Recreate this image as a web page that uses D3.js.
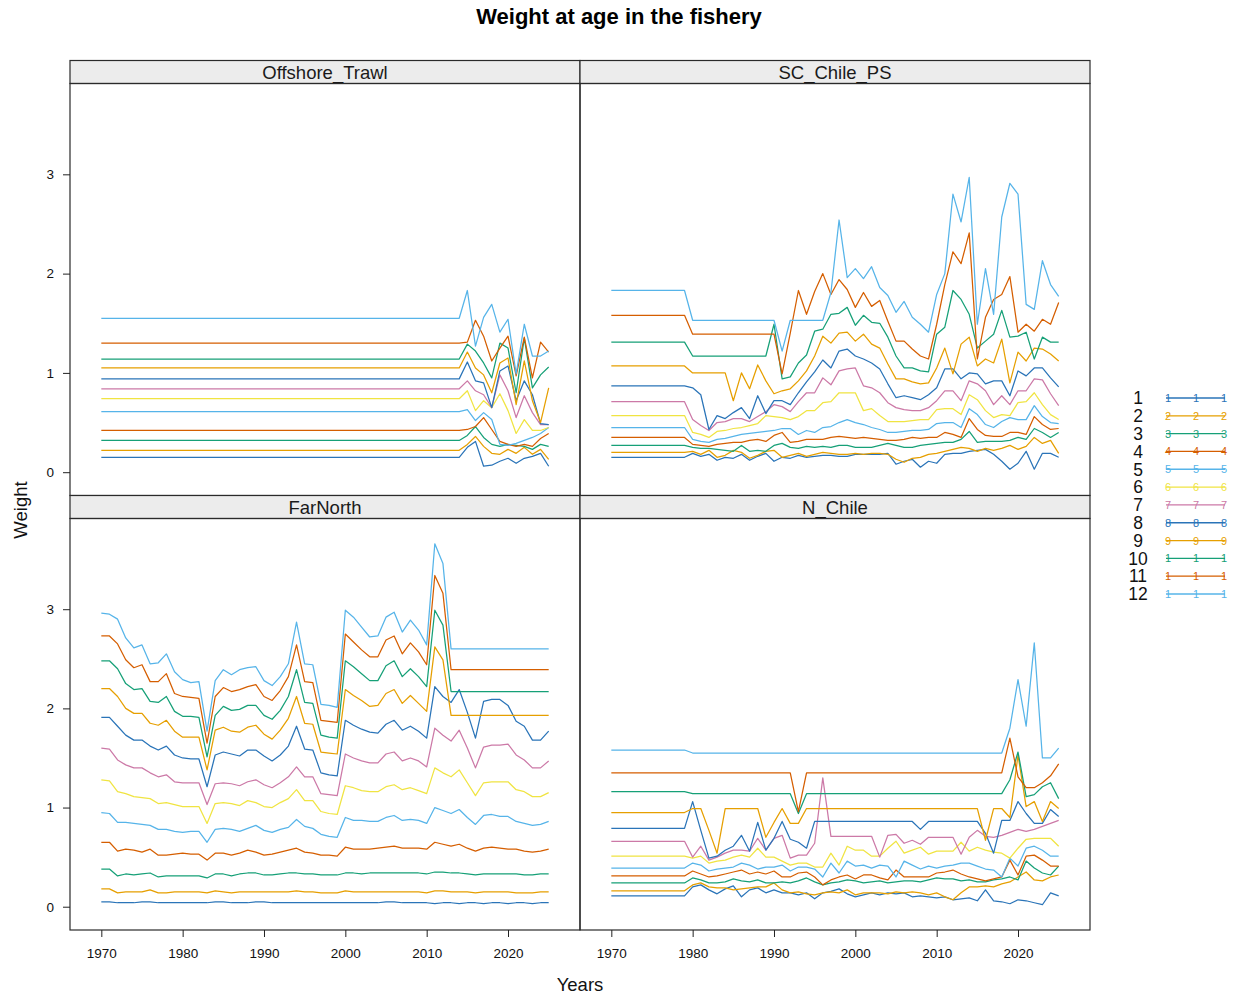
<!DOCTYPE html>
<html>
<head>
<meta charset="utf-8">
<script src="https://cdn.jsdelivr.net/npm/d3@7"></script>
<style>
  body { margin: 0; background: #fff; }
  svg { display: block; font-family: "Liberation Sans", Arial, Helvetica, sans-serif; }
</style>
</head>
<body>
<svg id="chart" width="1233" height="999"></svg>
<script>
// ---- data ---------------------------------------------------------------
const years = d3.range(1970, 2026);
const ages = ["1", "2", "3", "4", "5", "6", "7", "8", "9", "10", "11", "12"];
const fleets = ["Offshore_Trawl", "SC_Chile_PS", "FarNorth", "N_Chile"];
const xTickValues = [1970, 1980, 1990, 2000, 2010, 2020];
const yTickValues = [0, 1, 2, 3];
const ageColors = ["#2a74b8", "#E69F00", "#16a077", "#D55E00", "#56B4E9", "#F0E442",
                   "#CC79A7", "#2a74b8", "#E69F00", "#16a077", "#D55E00", "#56B4E9"];

// weight at age (kg), one row per age 1..12, one value per year 1970..2025
const wtOffshoreTrawl = [
  [0.15,0.15,0.15,0.15,0.15,0.15,0.15,0.15,0.15,0.15, 0.15,0.15,0.15,0.15,0.15,0.15,0.15,0.15,0.15,0.15,
   0.15,0.15,0.15,0.15,0.15,0.15,0.15,0.15,0.15,0.15, 0.15,0.15,0.15,0.15,0.15,0.15,0.15,0.15,0.15,0.15,
   0.15,0.15,0.15,0.15,0.15,0.25,0.31,0.06,0.07,0.11, 0.14,0.09,0.14,0.16,0.19,0.06],
  [0.22,0.22,0.22,0.22,0.22,0.22,0.22,0.22,0.22,0.22, 0.22,0.22,0.22,0.22,0.22,0.22,0.22,0.22,0.22,0.22,
   0.22,0.22,0.22,0.22,0.22,0.22,0.22,0.22,0.22,0.22, 0.22,0.22,0.22,0.22,0.22,0.22,0.22,0.22,0.22,0.22,
   0.22,0.22,0.22,0.22,0.22,0.28,0.36,0.26,0.19,0.18, 0.23,0.19,0.25,0.18,0.23,0.13],
  [0.32,0.32,0.32,0.32,0.32,0.32,0.32,0.32,0.32,0.32, 0.32,0.32,0.32,0.32,0.32,0.32,0.32,0.32,0.32,0.32,
   0.32,0.32,0.32,0.32,0.32,0.32,0.32,0.32,0.32,0.32, 0.32,0.32,0.32,0.32,0.32,0.32,0.32,0.32,0.32,0.32,
   0.32,0.32,0.32,0.32,0.32,0.37,0.46,0.35,0.28,0.26, 0.28,0.27,0.26,0.23,0.28,0.26],
  [0.42,0.42,0.42,0.42,0.42,0.42,0.42,0.42,0.42,0.42, 0.42,0.42,0.42,0.42,0.42,0.42,0.42,0.42,0.42,0.42,
   0.42,0.42,0.42,0.42,0.42,0.42,0.42,0.42,0.42,0.42, 0.42,0.42,0.42,0.42,0.42,0.42,0.42,0.42,0.42,0.42,
   0.42,0.42,0.42,0.42,0.42,0.43,0.46,0.55,0.43,0.31, 0.28,0.26,0.28,0.26,0.34,0.39],
  [0.61,0.61,0.61,0.61,0.61,0.61,0.61,0.61,0.61,0.61, 0.61,0.61,0.61,0.61,0.61,0.61,0.61,0.61,0.61,0.61,
   0.61,0.61,0.61,0.61,0.61,0.61,0.61,0.61,0.61,0.61, 0.61,0.61,0.61,0.61,0.61,0.61,0.61,0.61,0.61,0.61,
   0.61,0.61,0.61,0.61,0.61,0.63,0.52,0.60,0.53,0.28, 0.27,0.29,0.32,0.35,0.39,0.45],
  [0.74,0.74,0.74,0.74,0.74,0.74,0.74,0.74,0.74,0.74, 0.74,0.74,0.74,0.74,0.74,0.74,0.74,0.74,0.74,0.74,
   0.74,0.74,0.74,0.74,0.74,0.74,0.74,0.74,0.74,0.74, 0.74,0.74,0.74,0.74,0.74,0.74,0.74,0.74,0.74,0.74,
   0.74,0.74,0.74,0.74,0.74,0.82,0.62,0.72,0.65,0.79, 0.62,0.39,0.53,0.42,0.42,0.45],
  [0.84,0.84,0.84,0.84,0.84,0.84,0.84,0.84,0.84,0.84, 0.84,0.84,0.84,0.84,0.84,0.84,0.84,0.84,0.84,0.84,
   0.84,0.84,0.84,0.84,0.84,0.84,0.84,0.84,0.84,0.84, 0.84,0.84,0.84,0.84,0.84,0.84,0.84,0.84,0.84,0.84,
   0.84,0.84,0.84,0.84,0.84,0.92,0.82,0.78,0.65,0.98, 0.82,0.55,0.77,0.60,0.48,0.48],
  [0.94,0.94,0.94,0.94,0.94,0.94,0.94,0.94,0.94,0.94, 0.94,0.94,0.94,0.94,0.94,0.94,0.94,0.94,0.94,0.94,
   0.94,0.94,0.94,0.94,0.94,0.94,0.94,0.94,0.94,0.94, 0.94,0.94,0.94,0.94,0.94,0.94,0.94,0.94,0.94,0.94,
   0.94,0.94,0.94,0.94,0.94,1.11,0.92,0.90,0.65,1.02, 1.07,0.72,0.92,0.78,0.49,0.48],
  [1.05,1.05,1.05,1.05,1.05,1.05,1.05,1.05,1.05,1.05, 1.05,1.05,1.05,1.05,1.05,1.05,1.05,1.05,1.05,1.05,
   1.05,1.05,1.05,1.05,1.05,1.05,1.05,1.05,1.05,1.05, 1.05,1.05,1.05,1.05,1.05,1.05,1.05,1.05,1.05,1.05,
   1.05,1.05,1.05,1.05,1.05,1.21,1.05,0.98,0.80,1.10, 1.15,0.68,1.12,0.72,0.50,0.85],
  [1.14,1.14,1.14,1.14,1.14,1.14,1.14,1.14,1.14,1.14, 1.14,1.14,1.14,1.14,1.14,1.14,1.14,1.14,1.14,1.14,
   1.14,1.14,1.14,1.14,1.14,1.14,1.14,1.14,1.14,1.14, 1.14,1.14,1.14,1.14,1.14,1.14,1.14,1.14,1.14,1.14,
   1.14,1.14,1.14,1.14,1.14,1.29,1.22,1.10,0.95,1.30, 1.25,0.80,1.35,0.85,0.98,1.06],
  [1.30,1.30,1.30,1.30,1.30,1.30,1.30,1.30,1.30,1.30, 1.30,1.30,1.30,1.30,1.30,1.30,1.30,1.30,1.30,1.30,
   1.30,1.30,1.30,1.30,1.30,1.30,1.30,1.30,1.30,1.30, 1.30,1.30,1.30,1.30,1.30,1.30,1.30,1.30,1.30,1.30,
   1.30,1.30,1.30,1.30,1.30,1.31,1.53,1.37,1.12,1.25, 1.37,0.97,1.36,0.95,1.31,1.21],
  [1.55,1.55,1.55,1.55,1.55,1.55,1.55,1.55,1.55,1.55, 1.55,1.55,1.55,1.55,1.55,1.55,1.55,1.55,1.55,1.55,
   1.55,1.55,1.55,1.55,1.55,1.55,1.55,1.55,1.55,1.55, 1.55,1.55,1.55,1.55,1.55,1.55,1.55,1.55,1.55,1.55,
   1.55,1.55,1.55,1.55,1.55,1.83,1.27,1.56,1.69,1.41, 1.54,0.99,1.49,1.17,1.17,1.22]
];

const wtSCChilePS = [
  [0.15,0.15,0.15,0.15,0.15,0.15,0.15,0.15,0.15,0.15, 0.19,0.16,0.18,0.12,0.15,0.14,0.18,0.12,0.16,0.19,
   0.11,0.15,0.14,0.17,0.15,0.16,0.17,0.17,0.16,0.16, 0.18,0.18,0.18,0.18,0.19,0.08,0.11,0.13,0.05,0.11,
   0.09,0.18,0.19,0.19,0.21,0.22,0.23,0.18,0.11,0.03, 0.09,0.21,0.03,0.19,0.19,0.15],
  [0.20,0.20,0.20,0.20,0.20,0.20,0.20,0.20,0.20,0.20, 0.21,0.18,0.22,0.15,0.17,0.22,0.20,0.14,0.17,0.21,
   0.22,0.15,0.17,0.19,0.16,0.18,0.20,0.19,0.18,0.18, 0.19,0.18,0.19,0.19,0.18,0.13,0.10,0.14,0.15,0.18,
   0.19,0.21,0.23,0.25,0.24,0.21,0.24,0.22,0.24,0.27, 0.23,0.26,0.35,0.29,0.32,0.19],
  [0.27,0.27,0.27,0.27,0.27,0.27,0.27,0.27,0.27,0.27, 0.25,0.24,0.24,0.23,0.22,0.21,0.27,0.21,0.22,0.21,
   0.27,0.29,0.25,0.24,0.26,0.25,0.26,0.25,0.27,0.27, 0.25,0.25,0.25,0.27,0.29,0.27,0.25,0.25,0.27,0.28,
   0.29,0.30,0.30,0.33,0.41,0.30,0.31,0.31,0.31,0.32, 0.35,0.33,0.44,0.40,0.35,0.40],
  [0.35,0.35,0.35,0.35,0.35,0.35,0.35,0.35,0.35,0.35, 0.28,0.27,0.26,0.28,0.29,0.30,0.30,0.32,0.33,0.31,
   0.37,0.40,0.30,0.31,0.33,0.33,0.33,0.35,0.36,0.35, 0.34,0.35,0.34,0.33,0.32,0.32,0.33,0.35,0.34,0.35,
   0.35,0.40,0.38,0.35,0.54,0.43,0.37,0.36,0.36,0.40, 0.40,0.38,0.56,0.48,0.43,0.44],
  [0.45,0.45,0.45,0.45,0.45,0.45,0.45,0.45,0.45,0.45, 0.33,0.31,0.30,0.33,0.34,0.36,0.38,0.39,0.40,0.41,
   0.42,0.44,0.44,0.38,0.42,0.40,0.45,0.46,0.50,0.53, 0.50,0.48,0.45,0.43,0.40,0.40,0.41,0.42,0.42,0.43,
   0.49,0.50,0.50,0.45,0.64,0.58,0.48,0.45,0.51,0.55, 0.53,0.53,0.67,0.56,0.50,0.49],
  [0.57,0.57,0.57,0.57,0.57,0.57,0.57,0.57,0.57,0.57, 0.40,0.38,0.35,0.41,0.42,0.44,0.45,0.47,0.49,0.57,
   0.56,0.55,0.53,0.56,0.62,0.62,0.70,0.71,0.80,0.80, 0.80,0.62,0.64,0.57,0.51,0.51,0.51,0.52,0.53,0.53,
   0.63,0.64,0.64,0.58,0.78,0.73,0.62,0.55,0.58,0.57, 0.70,0.71,0.80,0.68,0.58,0.53],
  [0.71,0.71,0.71,0.71,0.71,0.71,0.71,0.71,0.71,0.71, 0.53,0.47,0.42,0.50,0.51,0.54,0.54,0.51,0.56,0.61,
   0.68,0.66,0.61,0.71,0.80,0.80,0.95,0.88,1.02,1.04, 1.05,0.87,0.85,0.80,0.70,0.65,0.63,0.62,0.62,0.65,
   0.72,0.82,0.82,0.72,0.92,0.89,0.82,0.68,0.77,0.68, 0.82,0.82,0.94,0.93,0.79,0.67],
  [0.87,0.87,0.87,0.87,0.87,0.87,0.87,0.87,0.87,0.87, 0.85,0.78,0.43,0.57,0.54,0.60,0.65,0.54,0.77,0.59,
   0.72,0.72,0.68,0.80,0.91,1.01,1.13,1.05,1.22,1.24, 1.17,1.14,1.10,1.04,0.89,0.75,0.77,0.75,0.73,0.78,
   0.85,1.04,1.04,0.94,1.00,0.99,0.89,0.92,0.92,0.77, 1.02,0.97,1.05,1.05,0.95,0.86],
  [1.07,1.07,1.07,1.07,1.07,1.07,1.07,1.07,1.07,1.07, 1.00,1.00,1.00,1.00,1.00,0.72,1.00,0.84,1.08,0.92,
   0.79,0.82,0.84,0.92,1.02,1.17,1.37,1.30,1.40,1.41, 1.32,1.39,1.29,1.25,1.09,0.94,0.94,0.91,0.89,0.90,
   1.05,1.25,0.99,1.29,1.36,1.07,1.14,1.10,1.34,0.90, 1.21,1.12,1.25,1.24,1.19,1.12],
  [1.31,1.31,1.31,1.31,1.31,1.31,1.31,1.31,1.31,1.31, 1.17,1.17,1.17,1.17,1.17,1.17,1.17,1.17,1.17,1.17,
   1.49,0.94,0.96,1.10,1.18,1.42,1.44,1.59,1.60,1.66, 1.48,1.58,1.51,1.50,1.36,1.17,1.05,1.05,1.02,1.01,
   1.39,1.46,1.83,1.74,1.59,1.25,1.32,1.39,1.63,1.36, 1.37,1.41,1.14,1.36,1.31,1.31],
  [1.58,1.58,1.58,1.58,1.58,1.58,1.58,1.58,1.58,1.58, 1.39,1.39,1.39,1.39,1.39,1.39,1.39,1.39,1.39,1.39,
   1.39,0.99,1.40,1.83,1.59,1.82,2.00,1.79,1.94,1.84, 1.66,1.81,1.67,1.73,1.52,1.32,1.32,1.24,1.17,1.14,
   1.49,1.89,2.22,2.10,2.41,1.14,1.56,1.74,1.79,1.97, 1.41,1.49,1.42,1.54,1.49,1.71],
  [1.83,1.83,1.83,1.83,1.83,1.83,1.83,1.83,1.83,1.83, 1.53,1.53,1.53,1.53,1.53,1.53,1.53,1.53,1.53,1.53,
   1.53,1.22,1.53,1.53,1.53,1.53,1.53,1.81,2.54,1.96, 2.05,1.95,2.07,1.86,1.78,1.61,1.72,1.56,1.49,1.41,
   1.79,2.00,2.80,2.52,2.97,1.49,2.05,1.59,2.57,2.91, 2.80,1.69,1.64,2.13,1.89,1.77]
];

const wtFarNorth = [
  [0.05,0.05,0.04,0.04,0.04,0.05,0.05,0.04,0.04,0.04, 0.04,0.04,0.04,0.04,0.05,0.05,0.04,0.04,0.04,0.05,
   0.05,0.04,0.04,0.04,0.04,0.04,0.04,0.04,0.04,0.04, 0.04,0.04,0.04,0.04,0.04,0.05,0.05,0.04,0.04,0.04,
   0.04,0.03,0.04,0.04,0.03,0.04,0.04,0.03,0.04,0.04, 0.03,0.04,0.04,0.03,0.04,0.04],
  [0.18,0.18,0.14,0.15,0.15,0.15,0.17,0.14,0.14,0.15, 0.15,0.15,0.15,0.14,0.16,0.15,0.14,0.15,0.15,0.15,
   0.15,0.15,0.15,0.15,0.16,0.15,0.15,0.14,0.14,0.14, 0.16,0.15,0.15,0.15,0.15,0.15,0.15,0.15,0.15,0.15,
   0.14,0.16,0.16,0.15,0.15,0.15,0.14,0.15,0.15,0.15, 0.15,0.14,0.14,0.14,0.15,0.15],
  [0.38,0.38,0.31,0.33,0.32,0.33,0.34,0.30,0.31,0.31, 0.31,0.31,0.31,0.29,0.33,0.33,0.31,0.33,0.34,0.34,
   0.32,0.32,0.33,0.34,0.34,0.33,0.33,0.32,0.32,0.32, 0.34,0.34,0.33,0.34,0.34,0.34,0.34,0.34,0.34,0.34,
   0.33,0.35,0.35,0.34,0.34,0.33,0.32,0.33,0.33,0.33, 0.33,0.33,0.32,0.32,0.33,0.33],
  [0.65,0.65,0.56,0.58,0.57,0.55,0.58,0.52,0.52,0.53, 0.54,0.53,0.53,0.47,0.54,0.54,0.52,0.54,0.57,0.55,
   0.52,0.53,0.55,0.57,0.59,0.55,0.54,0.52,0.52,0.51, 0.60,0.58,0.58,0.58,0.59,0.60,0.61,0.59,0.59,0.59,
   0.58,0.65,0.63,0.61,0.63,0.59,0.56,0.59,0.60,0.59, 0.58,0.58,0.56,0.55,0.56,0.58],
  [0.95,0.94,0.85,0.85,0.84,0.83,0.82,0.78,0.78,0.76, 0.75,0.76,0.76,0.65,0.78,0.79,0.78,0.76,0.79,0.82,
   0.77,0.75,0.78,0.80,0.88,0.81,0.79,0.73,0.71,0.70, 0.90,0.87,0.87,0.86,0.86,0.90,0.92,0.87,0.88,0.87,
   0.84,1.00,0.97,0.94,0.98,0.90,0.83,0.92,0.93,0.91, 0.91,0.86,0.84,0.82,0.83,0.86],
  [1.28,1.27,1.16,1.14,1.11,1.10,1.09,1.04,1.05,1.03, 1.01,1.01,1.01,0.84,1.04,1.05,1.04,1.02,1.07,1.05,
   1.01,1.00,1.05,1.09,1.18,1.07,1.07,0.96,0.94,0.93, 1.22,1.20,1.17,1.16,1.16,1.21,1.23,1.18,1.20,1.17,
   1.14,1.40,1.35,1.31,1.38,1.25,1.12,1.25,1.26,1.26, 1.26,1.18,1.16,1.11,1.11,1.15],
  [1.60,1.59,1.48,1.43,1.40,1.40,1.35,1.31,1.33,1.26, 1.25,1.25,1.25,1.03,1.24,1.25,1.24,1.22,1.26,1.28,
   1.23,1.20,1.25,1.31,1.41,1.31,1.31,1.14,1.13,1.12, 1.54,1.50,1.47,1.45,1.45,1.54,1.56,1.47,1.50,1.47,
   1.41,1.80,1.73,1.67,1.78,1.60,1.40,1.61,1.63,1.63, 1.64,1.53,1.48,1.40,1.40,1.47],
  [1.91,1.91,1.82,1.73,1.68,1.68,1.62,1.58,1.62,1.53, 1.50,1.49,1.49,1.21,1.53,1.56,1.54,1.52,1.58,1.58,
   1.52,1.47,1.53,1.62,1.82,1.59,1.58,1.35,1.33,1.32, 1.88,1.83,1.79,1.76,1.75,1.84,1.88,1.78,1.82,1.77,
   1.70,2.22,2.12,2.06,2.19,1.96,1.70,2.07,2.09,2.09, 2.03,1.87,1.82,1.68,1.68,1.77],
  [2.20,2.20,2.12,2.00,1.95,1.95,1.85,1.83,1.88,1.77, 1.71,1.71,1.71,1.38,1.78,1.81,1.77,1.76,1.81,1.83,
   1.74,1.69,1.78,1.90,2.12,1.85,1.84,1.56,1.55,1.54, 2.19,2.13,2.08,2.02,2.03,2.15,2.19,2.05,2.13,2.05,
   1.97,2.62,2.49,1.93,1.93,1.93,1.93,1.93,1.93,1.93, 1.93,1.93,1.93,1.93,1.93,1.93],
  [2.48,2.48,2.40,2.25,2.19,2.20,2.07,2.06,2.12,1.97, 1.92,1.92,1.91,1.51,1.93,2.02,1.98,1.99,2.03,2.03,
   1.93,1.89,1.98,2.12,2.39,2.06,2.05,1.73,1.71,1.70, 2.48,2.42,2.35,2.28,2.28,2.43,2.48,2.32,2.40,2.32,
   2.22,2.99,2.84,2.17,2.17,2.17,2.17,2.17,2.17,2.17, 2.17,2.17,2.17,2.17,2.17,2.17],
  [2.73,2.73,2.65,2.49,2.41,2.44,2.27,2.27,2.35,2.15, 2.12,2.11,2.10,1.65,2.12,2.21,2.17,2.19,2.22,2.24,
   2.12,2.08,2.18,2.32,2.64,2.27,2.26,1.88,1.87,1.86, 2.75,2.67,2.59,2.52,2.52,2.69,2.73,2.55,2.66,2.57,
   2.44,3.34,3.16,2.39,2.39,2.39,2.39,2.39,2.39,2.39, 2.39,2.39,2.39,2.39,2.39,2.39],
  [2.96,2.95,2.90,2.71,2.61,2.64,2.45,2.46,2.55,2.37, 2.29,2.26,2.27,1.77,2.28,2.39,2.34,2.39,2.41,2.42,
   2.28,2.23,2.32,2.45,2.87,2.45,2.44,2.04,2.03,2.01, 2.99,2.92,2.82,2.72,2.73,2.92,2.97,2.77,2.89,2.79,
   2.64,3.66,3.46,2.60,2.60,2.60,2.60,2.60,2.60,2.60, 2.60,2.60,2.60,2.60,2.60,2.60]
];

const wtNChile = [
  [0.11,0.11,0.11,0.11,0.11,0.11,0.11,0.11,0.11,0.11, 0.20,0.22,0.17,0.13,0.18,0.21,0.10,0.17,0.19,0.14,
   0.17,0.14,0.14,0.12,0.14,0.08,0.14,0.155,0.18,0.13, 0.10,0.12,0.14,0.12,0.14,0.13,0.14,0.10,0.11,0.10,
   0.09,0.10,0.07,0.08,0.09,0.06,0.17,0.06,0.05,0.03, 0.07,0.06,0.04,0.02,0.14,0.11],
  [0.16,0.16,0.16,0.16,0.16,0.16,0.16,0.16,0.16,0.16, 0.22,0.24,0.20,0.19,0.19,0.17,0.18,0.19,0.20,0.20,
   0.24,0.17,0.14,0.15,0.13,0.12,0.14,0.15,0.14,0.17, 0.12,0.14,0.14,0.14,0.13,0.15,0.14,0.15,0.14,0.12,
   0.14,0.10,0.07,0.14,0.20,0.20,0.21,0.20,0.23,0.25, 0.30,0.35,0.27,0.26,0.30,0.32],
  [0.24,0.24,0.24,0.24,0.24,0.24,0.24,0.24,0.24,0.24, 0.29,0.27,0.24,0.24,0.25,0.28,0.26,0.25,0.27,0.24,
   0.24,0.25,0.24,0.26,0.29,0.25,0.22,0.24,0.25,0.27, 0.26,0.24,0.25,0.26,0.24,0.25,0.26,0.26,0.25,0.27,
   0.29,0.28,0.28,0.26,0.27,0.25,0.25,0.27,0.28,0.30, 0.27,0.46,0.39,0.34,0.32,0.41],
  [0.31,0.31,0.31,0.31,0.31,0.31,0.31,0.31,0.31,0.31, 0.36,0.33,0.30,0.31,0.33,0.35,0.37,0.33,0.35,0.33,
   0.36,0.30,0.30,0.34,0.35,0.30,0.22,0.27,0.30,0.32, 0.28,0.32,0.32,0.29,0.27,0.37,0.30,0.30,0.30,0.30,
   0.34,0.35,0.37,0.33,0.30,0.28,0.26,0.28,0.30,0.47, 0.32,0.51,0.52,0.47,0.41,0.41],
  [0.39,0.39,0.39,0.39,0.39,0.39,0.39,0.39,0.39,0.39, 0.44,0.42,0.36,0.38,0.39,0.40,0.44,0.42,0.38,0.40,
   0.40,0.42,0.36,0.40,0.40,0.38,0.30,0.44,0.34,0.46, 0.41,0.42,0.39,0.42,0.41,0.30,0.46,0.42,0.38,0.41,
   0.39,0.41,0.42,0.44,0.44,0.41,0.38,0.37,0.30,0.49, 0.41,0.59,0.61,0.57,0.51,0.51],
  [0.51,0.51,0.51,0.51,0.51,0.51,0.51,0.51,0.51,0.51, 0.49,0.51,0.44,0.46,0.47,0.50,0.52,0.50,0.59,0.50,
   0.50,0.46,0.42,0.44,0.44,0.40,0.40,0.54,0.42,0.61, 0.57,0.57,0.51,0.51,0.59,0.66,0.54,0.57,0.60,0.53,
   0.56,0.56,0.56,0.65,0.56,0.60,0.57,0.55,0.54,0.49, 0.59,0.68,0.69,0.69,0.69,0.61],
  [0.66,0.66,0.66,0.66,0.66,0.66,0.66,0.66,0.66,0.66, 0.50,0.61,0.47,0.50,0.54,0.57,0.57,0.56,0.69,0.57,
   0.69,0.72,0.49,0.52,0.52,0.64,1.30,0.71,0.71,0.71, 0.71,0.71,0.71,0.50,0.72,0.73,0.64,0.67,0.63,0.70,
   0.70,0.70,0.70,0.53,0.70,0.77,0.71,0.70,0.72,0.75, 0.78,0.76,0.78,0.81,0.84,0.87],
  [0.79,0.79,0.79,0.79,0.79,0.79,0.79,0.79,0.79,0.79, 1.06,0.77,0.49,0.51,0.57,0.61,0.72,0.56,0.85,0.57,
   0.69,0.86,0.68,0.65,0.59,0.86,0.86,0.86,0.86,0.86, 0.86,0.86,0.86,0.86,0.86,0.86,0.86,0.86,0.78,0.86,
   0.86,0.86,0.86,0.86,0.86,0.86,0.74,0.54,0.87,0.87, 1.06,0.94,0.84,0.84,0.98,0.91],
  [0.95,0.95,0.95,0.95,0.95,0.95,0.95,0.95,0.95,0.95, 0.99,0.99,0.77,0.54,0.99,0.99,0.99,0.99,0.99,0.70,
   0.85,0.99,0.84,0.84,0.99,0.99,0.99,0.99,0.99,0.99, 0.99,0.99,0.99,0.99,0.99,0.99,0.99,0.99,0.99,0.99,
   0.99,0.99,0.99,0.99,0.99,0.99,0.67,0.99,0.99,0.90, 1.53,1.01,1.06,0.86,1.06,0.99],
  [1.16,1.16,1.16,1.16,1.16,1.16,1.16,1.16,1.16,1.16, 1.14,1.14,1.14,1.14,1.14,1.14,1.14,1.14,1.14,1.14,
   1.14,1.14,1.14,0.94,1.14,1.14,1.14,1.14,1.14,1.14, 1.14,1.14,1.14,1.14,1.14,1.14,1.14,1.14,1.14,1.14,
   1.14,1.14,1.14,1.14,1.14,1.14,1.14,1.14,1.14,1.28, 1.56,1.11,1.13,1.21,1.25,1.09],
  [1.35,1.35,1.35,1.35,1.35,1.35,1.35,1.35,1.35,1.35, 1.35,1.35,1.35,1.35,1.35,1.35,1.35,1.35,1.35,1.35,
   1.35,1.35,1.35,0.96,1.35,1.35,1.35,1.35,1.35,1.35, 1.35,1.35,1.35,1.35,1.35,1.35,1.35,1.35,1.35,1.35,
   1.35,1.35,1.35,1.35,1.35,1.35,1.35,1.35,1.35,1.70, 1.31,1.20,1.20,1.25,1.32,1.44],
  [1.58,1.58,1.58,1.58,1.58,1.58,1.58,1.58,1.58,1.58, 1.55,1.55,1.55,1.55,1.55,1.55,1.55,1.55,1.55,1.55,
   1.55,1.55,1.55,1.55,1.55,1.55,1.55,1.55,1.55,1.55, 1.55,1.55,1.55,1.55,1.55,1.55,1.55,1.55,1.55,1.55,
   1.55,1.55,1.55,1.55,1.55,1.55,1.55,1.55,1.55,1.80, 2.29,1.82,2.66,1.50,1.50,1.60]
];

// ---- layout -------------------------------------------------------------
const svg = d3.select("#chart");
const FONT_TICK = 13.5, FONT_STRIP = 18.5, FONT_LAB = 18.5;

const panels = [
  { name: fleets[0], values: wtOffshoreTrawl, col: 0, row: 0 },
  { name: fleets[1], values: wtSCChilePS,     col: 1, row: 0 },
  { name: fleets[2], values: wtFarNorth,      col: 0, row: 1 },
  { name: fleets[3], values: wtNChile,        col: 1, row: 1 }
];
const cols = [{ left: 70, right: 580 }, { left: 580, right: 1090 }];
const rows = [
  { stripTop: 60.5,  top: 83.5,  bottom: 495.5 },
  { stripTop: 495.5, top: 518.5, bottom: 930 }
];

// lattice-style limits: data range padded by 7% on each side
const allValues = panels.flatMap(p => p.values.flat());
const [yMin, yMax] = d3.extent(allValues);
const yPad = 0.07 * (yMax - yMin);
const [x0, x1] = d3.extent(years);
const xPad = 0.07 * (x1 - x0);

cols.forEach(c => { c.x = d3.scaleLinear().domain([x0 - xPad, x1 + xPad]).range([c.left, c.right]); });
rows.forEach(r => { r.y = d3.scaleLinear().domain([yMin - yPad, yMax + yPad]).range([r.bottom, r.top]); });

// ---- panels -------------------------------------------------------------
panels.forEach(p => {
  const c = cols[p.col], r = rows[p.row];
  const line = d3.line().x((d, i) => c.x(years[i])).y(d => r.y(d));

  svg.append("g")
    .selectAll("path")
    .data(p.values)
    .join("path")
      .attr("d", line)
      .attr("fill", "none")
      .attr("stroke", (d, i) => ageColors[i])
      .attr("stroke-width", 1.25)
      .attr("stroke-linejoin", "round");

  // strip with the fleet name
  svg.append("rect")
    .attr("x", c.left).attr("y", r.stripTop)
    .attr("width", c.right - c.left).attr("height", r.top - r.stripTop)
    .attr("fill", "#ececec").attr("stroke", "#2a2a2a").attr("stroke-width", 1.2);
  svg.append("text")
    .attr("x", (c.left + c.right) / 2)
    .attr("y", (r.stripTop + r.top) / 2 + FONT_STRIP * 0.36)
    .attr("text-anchor", "middle")
    .attr("font-size", FONT_STRIP)
    .attr("fill", "#1a1a1a")
    .text(p.name);

  // panel frame
  svg.append("rect")
    .attr("x", c.left).attr("y", r.top)
    .attr("width", c.right - c.left).attr("height", r.bottom - r.top)
    .attr("fill", "none").attr("stroke", "#2a2a2a").attr("stroke-width", 1.2);
});

// ---- axes ---------------------------------------------------------------
function styleAxis(g) {
  g.select(".domain").remove();
  g.selectAll(".tick line").attr("stroke", "#222");
  g.selectAll(".tick text")
    .attr("fill", "#111")
    .attr("font-size", FONT_TICK)
    .attr("font-family", "'Liberation Sans', Arial, Helvetica, sans-serif");
}

rows.forEach(r => {
  svg.append("g")
    .attr("transform", `translate(${cols[0].left},0)`)
    .call(d3.axisLeft(r.y).tickValues(yTickValues).tickFormat(d3.format("d"))
      .tickSize(7).tickPadding(9).tickSizeOuter(0))
    .call(styleAxis);
});

cols.forEach(c => {
  svg.append("g")
    .attr("transform", `translate(0,${rows[1].bottom})`)
    .call(d3.axisBottom(c.x).tickValues(xTickValues).tickFormat(d3.format("d"))
      .tickSize(7).tickPadding(11).tickSizeOuter(0))
    .call(styleAxis);
});

// ---- titles -------------------------------------------------------------
svg.append("text")
  .attr("x", 619).attr("y", 24)
  .attr("text-anchor", "middle")
  .attr("font-size", 22).attr("font-weight", "bold")
  .attr("fill", "#000")
  .text("Weight at age in the fishery");

svg.append("text")
  .attr("x", (cols[0].left + cols[1].right) / 2).attr("y", 991)
  .attr("text-anchor", "middle")
  .attr("font-size", FONT_LAB).attr("fill", "#111")
  .text("Years");

svg.append("text")
  .attr("transform", `translate(27,510) rotate(-90)`)
  .attr("text-anchor", "middle")
  .attr("font-size", FONT_LAB).attr("fill", "#111")
  .text("Weight");

// ---- legend -------------------------------------------------------------
const keyY = d3.scalePoint().domain(ages).range([398, 594]);
const keyX = d3.scalePoint().domain([0, 1, 2]).range([1168, 1224]);
const key = svg.append("g");

const keyRow = key.selectAll("g.key-row")
  .data(ages)
  .join("g")
    .attr("class", "key-row")
    .attr("transform", d => `translate(0,${keyY(d)})`);

keyRow.append("text")
  .attr("x", 1138).attr("y", 17.5 * 0.36)
  .attr("text-anchor", "middle")
  .attr("font-size", 17.5).attr("fill", "#111")
  .text(d => d);

keyRow.append("line")
  .attr("x1", keyX(0) - 2).attr("x2", keyX(2) + 1)
  .attr("stroke", (d, i) => ageColors[i]).attr("stroke-width", 1.3);

keyRow.each(function (d, i) {
  d3.select(this).selectAll("text.pch")
    .data(keyX.domain())
    .join("text")
      .attr("class", "pch")
      .attr("x", k => keyX(k)).attr("y", 4)
      .attr("text-anchor", "middle")
      .attr("font-size", 11)
      .attr("fill", ageColors[i])
      .text(d.charAt(0));
});
</script>
</body>
</html>
